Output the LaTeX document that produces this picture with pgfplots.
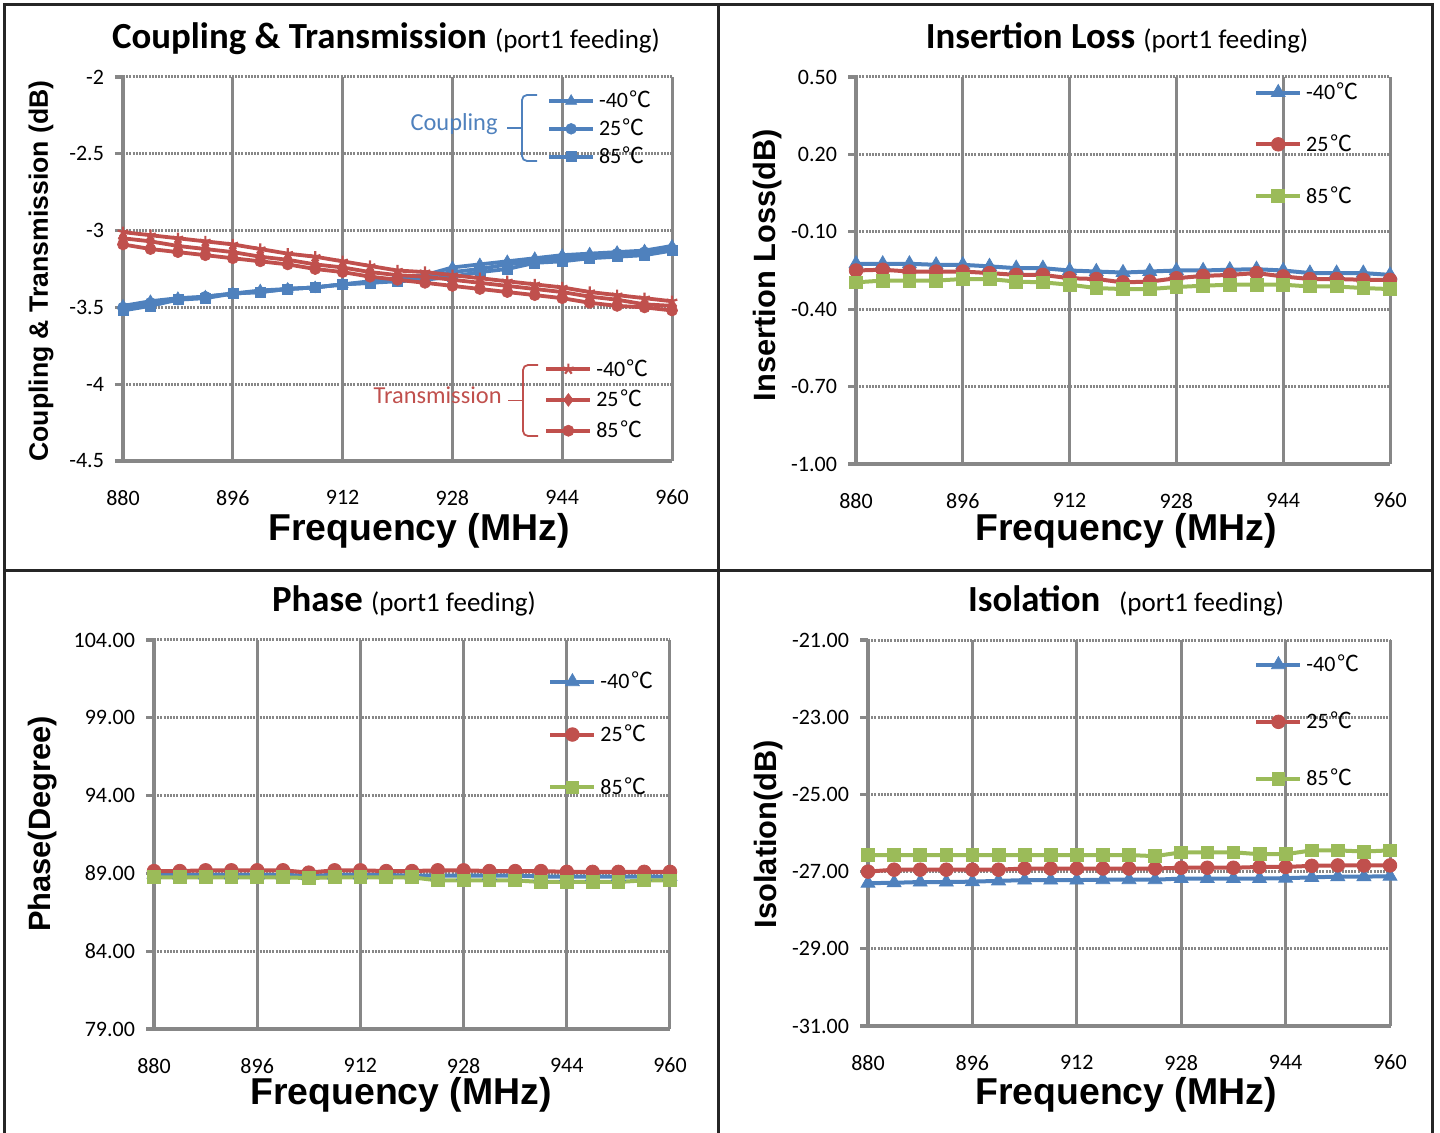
\documentclass[border=0pt]{standalone}
\usepackage{pgfplots}
\pgfplotsset{compat=1.18}
\usepackage{pgfplotstable}
\usepackage{fontspec}
\setmainfont{Carlito}
\newfontfamily\arialf{Liberation Sans}
\newfontfamily\cjk{Noto Sans CJK SC}
\newcommand\dc{\hspace{0.8pt}{\cjk ℃}}
\definecolor{cblue}{HTML}{4F81BD}
\definecolor{cred}{HTML}{C0504D}
\definecolor{cgreen}{HTML}{9BBB59}
\definecolor{gridgray}{HTML}{878787}
\definecolor{framec}{HTML}{262626}

\pgfplotstableread{
f c40 c25 c85 t40 t25 t85
880 -3.49 -3.50 -3.52 -3.01 -3.05 -3.09
884 -3.46 -3.47 -3.49 -3.03 -3.07 -3.12
888 -3.44 -3.45 -3.45 -3.05 -3.10 -3.14
892 -3.43 -3.43 -3.44 -3.07 -3.12 -3.16
896 -3.41 -3.41 -3.41 -3.09 -3.14 -3.18
900 -3.39 -3.40 -3.40 -3.12 -3.17 -3.20
904 -3.38 -3.38 -3.38 -3.15 -3.19 -3.22
908 -3.37 -3.37 -3.37 -3.17 -3.22 -3.25
912 -3.35 -3.35 -3.35 -3.20 -3.24 -3.27
916 -3.33 -3.34 -3.34 -3.23 -3.27 -3.30
920 -3.31 -3.32 -3.33 -3.26 -3.29 -3.32
924 -3.29 -3.30 -3.32 -3.27 -3.30 -3.34
928 -3.24 -3.27 -3.30 -3.29 -3.32 -3.36
932 -3.22 -3.25 -3.27 -3.31 -3.34 -3.38
936 -3.20 -3.22 -3.25 -3.33 -3.36 -3.40
940 -3.18 -3.20 -3.21 -3.35 -3.38 -3.42
944 -3.16 -3.18 -3.20 -3.37 -3.40 -3.44
948 -3.15 -3.17 -3.18 -3.40 -3.43 -3.47
952 -3.14 -3.15 -3.17 -3.42 -3.45 -3.49
956 -3.13 -3.14 -3.16 -3.44 -3.48 -3.50
960 -3.10 -3.12 -3.13 -3.46 -3.49 -3.52
}\tcdata

\pgfplotstableread{
f a b c
880 -0.224 -0.250 -0.296
884 -0.224 -0.247 -0.289
888 -0.224 -0.254 -0.289
892 -0.228 -0.254 -0.289
896 -0.228 -0.254 -0.283
900 -0.234 -0.260 -0.283
904 -0.241 -0.267 -0.293
908 -0.241 -0.267 -0.296
912 -0.250 -0.280 -0.305
916 -0.254 -0.283 -0.318
920 -0.258 -0.296 -0.322
924 -0.254 -0.293 -0.322
928 -0.250 -0.280 -0.314
932 -0.250 -0.271 -0.309
936 -0.247 -0.267 -0.305
940 -0.245 -0.260 -0.305
944 -0.250 -0.273 -0.305
948 -0.260 -0.283 -0.312
952 -0.260 -0.283 -0.312
956 -0.260 -0.286 -0.318
960 -0.267 -0.286 -0.322
}\ildata

\pgfplotstableread{
f a b c
880 88.95 89.15 88.75
884 88.90 89.15 88.75
888 88.90 89.20 88.75
892 88.90 89.20 88.75
896 88.90 89.20 88.75
900 88.90 89.20 88.75
904 88.85 89.05 88.70
908 88.90 89.20 88.75
912 88.90 89.20 88.75
916 88.90 89.15 88.75
920 88.85 89.15 88.75
924 88.85 89.20 88.55
928 88.85 89.20 88.55
932 88.85 89.15 88.55
936 88.85 89.15 88.55
940 88.80 89.15 88.45
944 88.80 89.10 88.45
948 88.80 89.10 88.45
952 88.80 89.10 88.45
956 88.80 89.10 88.55
960 88.80 89.10 88.55
}\phdata

\pgfplotstableread{
f a b c
880 -27.30 -27.00 -26.57
884 -27.29 -26.95 -26.57
888 -27.27 -26.95 -26.57
892 -27.27 -26.95 -26.57
896 -27.26 -26.95 -26.57
900 -27.24 -26.95 -26.57
904 -27.22 -26.92 -26.57
908 -27.22 -26.92 -26.57
912 -27.22 -26.92 -26.57
916 -27.21 -26.92 -26.57
920 -27.21 -26.92 -26.57
924 -27.21 -26.92 -26.60
928 -27.18 -26.90 -26.50
932 -27.18 -26.90 -26.50
936 -27.18 -26.90 -26.50
940 -27.18 -26.88 -26.55
944 -27.17 -26.88 -26.55
948 -27.15 -26.85 -26.45
952 -27.13 -26.84 -26.45
956 -27.13 -26.84 -26.48
960 -27.12 -26.84 -26.45
}\isodata

\pgfplotsset{
  base/.style={
    scale only axis,
    anchor=south west,
    xmin=880, xmax=960,
    xtick={880,896,912,928,944,960},
    xticklabels={880,896,912,928,944,960},
    axis x line*=bottom, axis y line*=left,
    axis line style={gridgray, line width=1.6pt},
    xmajorgrids, ymajorgrids,
    x grid style={gridgray, line width=1.5pt},
    y grid style={gridgray, line width=1.5pt, dash pattern=on 1pt off 0.6pt},
    tick align=outside, major tick length=4pt,
    xtick style={draw=none},
    ytick style={gridgray, line width=1.6pt},
    tick label style={font=\fontsize{11}{13}\selectfont},
    xticklabel style={yshift=-7pt},
    yticklabel style={xshift=-2pt},
    legend style={draw=none, fill=none, font=\fontsize{11}{13}\selectfont, inner sep=0pt},
    legend cell align=left,
    legend image code/.code={\draw[mark repeat=2,mark phase=2] plot coordinates {(0pt,0pt) (11pt,0pt) (22pt,0pt)};},
    clip=false,
  },
  bigser/.style={line width=2pt, mark options={line width=0.4pt, solid}},
  smser/.style={line width=1.9pt},
}

\begin{document}
\begin{tikzpicture}
\path[use as bounding box] (0pt,0pt) rectangle (720pt,-566.5pt);

% ---------- Panel 1 : Coupling & Transmission ----------
\begin{axis}[base, at={(61.5pt,-230.5pt)}, width=274.5pt, height=192pt,
  ymin=-4.5, ymax=-2, ytick={-4.5,-4,-3.5,-3,-2.5,-2},
  yticklabels={-4.5,-4,-3.5,-3,-2.5,-2},
  legend style={at={(0.772,0.865)}, anchor=west, row sep=0pt}]
\addplot[cblue, smser, mark=triangle*, mark size=3.2pt, mark options={line width=0.3pt}] table[x=f,y=c40]{\tcdata};
\addlegendentry{-40\dc}
\addplot[cblue, smser, mark=*, mark size=2.7pt, mark options={line width=0.3pt}] table[x=f,y=c25]{\tcdata};
\addlegendentry{25\dc}
\addplot[cblue, smser, mark=square*, mark size=2.5pt, mark options={line width=0.3pt}] table[x=f,y=c85]{\tcdata};
\addlegendentry{85\dc}
\end{axis}
\begin{axis}[base, at={(61.5pt,-230.5pt)}, width=274.5pt, height=192pt,
  ymin=-4.5, ymax=-2, hide axis,
  legend style={at={(0.767,0.159)}, anchor=west, row sep=1.5pt}]
\addplot[cred, smser, mark=star, mark size=2.8pt, mark options={line width=1.1pt}] table[x=f,y=t40]{\tcdata};
\addlegendentry{-40\dc}
\addplot[cred, smser, mark=diamond*, mark size=3.2pt, mark options={line width=0.3pt}] table[x=f,y=t25]{\tcdata};
\addlegendentry{25\dc}
\addplot[cred, smser, mark=*, mark size=2.8pt, mark options={line width=0.3pt}] table[x=f,y=t85]{\tcdata};
\addlegendentry{85\dc}
\end{axis}

% ---------- Panel 2 : Insertion Loss ----------
\begin{axis}[base, at={(428pt,-232pt)}, width=267pt, height=193.5pt,
  ymin=-1, ymax=0.5, ytick={-1,-0.7,-0.4,-0.1,0.2,0.5},
  yticklabels={-1.00,-0.70,-0.40,-0.10,0.20,0.50},
  legend style={at={(0.745,0.826)}, anchor=west, row sep=12pt}]
\addplot[cblue, bigser, mark=triangle*, mark size=4pt] table[x=f,y=a]{\ildata};
\addlegendentry{-40\dc}
\addplot[cred, bigser, mark=*, mark size=3.4pt] table[x=f,y=b]{\ildata};
\addlegendentry{25\dc}
\addplot[cgreen, bigser, mark=square*, mark size=3.2pt] table[x=f,y=c]{\ildata};
\addlegendentry{85\dc}
\end{axis}

% ---------- Panel 3 : Phase ----------
\begin{axis}[base, at={(77pt,-514.5pt)}, width=258pt, height=194.5pt,
  ymin=79, ymax=104, ytick={79,84,89,94,99,104},
  yticklabels={79.00,84.00,89.00,94.00,99.00,104.00},
  legend style={at={(0.7636,0.757)}, anchor=west, row sep=12.5pt}]
\addplot[cblue, bigser, mark=triangle*, mark size=4pt] table[x=f,y=a]{\phdata};
\addlegendentry{-40\dc}
\addplot[cred, bigser, mark=*, mark size=3.4pt] table[x=f,y=b]{\phdata};
\addlegendentry{25\dc}
\addplot[cgreen, bigser, mark=square*, mark size=3.2pt] table[x=f,y=c]{\phdata};
\addlegendentry{85\dc}
\end{axis}

% ---------- Panel 4 : Isolation ----------
\begin{axis}[base, at={(434pt,-513pt)}, width=261pt, height=193pt,
  ymin=-31, ymax=-21, ytick={-31,-29,-27,-25,-23,-21},
  yticklabels={-31.00,-29.00,-27.00,-25.00,-23.00,-21.00},
  legend style={at={(0.7395,0.788)}, anchor=west, row sep=14.7pt}]
\addplot[cblue, bigser, mark=triangle*, mark size=4pt] table[x=f,y=a]{\isodata};
\addlegendentry{-40\dc}
\addplot[cred, bigser, mark=*, mark size=3.4pt] table[x=f,y=b]{\isodata};
\addlegendentry{25\dc}
\addplot[cgreen, bigser, mark=square*, mark size=3.2pt] table[x=f,y=c]{\isodata};
\addlegendentry{85\dc}
\end{axis}

% ---------- titles ----------
\node[anchor=base, inner sep=0pt] at (193pt,-24.5pt) {\fontsize{18.4}{22}\selectfont\bfseries Coupling \& Transmission \fontsize{13.5}{16}\selectfont\mdseries(port1 feeding)};
\node[anchor=base, inner sep=0pt] at (558.5pt,-24.5pt) {\fontsize{18.4}{22}\selectfont\bfseries Insertion Loss \fontsize{13.5}{16}\selectfont\mdseries(port1 feeding)};
\node[anchor=base, inner sep=0pt] at (202pt,-305.5pt) {\fontsize{18.4}{22}\selectfont\bfseries Phase \fontsize{13.5}{16}\selectfont\mdseries(port1 feeding)};
\node[anchor=base, inner sep=0pt] at (563pt,-305.5pt) {\fontsize{18.4}{22}\selectfont\bfseries Isolation\hspace{9.5pt}\fontsize{13.5}{16}\selectfont\mdseries(port1 feeding)};

% ---------- x labels ----------
\foreach \xx/\yy in {209.5/270.5, 563/270.5, 200.5/552, 563/552}{
  \node[anchor=base, inner sep=0pt] at (\xx pt,-\yy pt) {\arialf\bfseries\fontsize{18.7}{22}\selectfont Frequency (MHz)};
}

% ---------- y labels ----------
\node[rotate=90, inner sep=0pt] at (20.5pt,-135.5pt) {\arialf\bfseries\fontsize{13.3}{16}\selectfont Coupling \& Transmission (dB)};
\node[rotate=90, inner sep=0pt] at (384pt,-132.5pt) {\arialf\bfseries\fontsize{15.4}{18}\selectfont Insertion Loss(dB)};
\node[rotate=90, inner sep=0pt] at (21.5pt,-412pt) {\arialf\bfseries\fontsize{15.4}{18}\selectfont Phase(Degree)};
\node[rotate=90, inner sep=0pt] at (384.5pt,-417pt) {\arialf\bfseries\fontsize{15.4}{18}\selectfont Isolation(dB)};

% ---------- group braces ----------
\node[anchor=base east, inner sep=0pt, text=cblue] at (249pt,-65.5pt) {\fontsize{12.2}{14}\selectfont Coupling};
\draw[cblue, line width=0.9pt, rounded corners=2.5pt] (268.5pt,-47.5pt) -- (261pt,-47.5pt) -- (261pt,-80.5pt) -- (268.5pt,-80.5pt);
\draw[cblue, line width=0.9pt] (253.5pt,-64pt) -- (261pt,-64pt);
\node[anchor=base east, inner sep=0pt, text=cred] at (251pt,-202pt) {\fontsize{12.2}{14}\selectfont Transmission};
\draw[cred, line width=0.9pt, rounded corners=2.5pt] (269pt,-182.5pt) -- (261.5pt,-182.5pt) -- (261.5pt,-218pt) -- (269pt,-218pt);
\draw[cred, line width=0.9pt] (254pt,-200.3pt) -- (261.5pt,-200.3pt);

% ---------- frame ----------
\draw[framec, line width=1.5pt] (2pt,-566.5pt) -- (2pt,-2.5pt) -- (716pt,-2.5pt) -- (716pt,-566.5pt);
\draw[framec, line width=1.5pt] (359pt,-2.5pt) -- (359pt,-566.5pt);
\draw[framec, line width=1.5pt] (2pt,-285.5pt) -- (716pt,-285.5pt);
\end{tikzpicture}
\end{document}
